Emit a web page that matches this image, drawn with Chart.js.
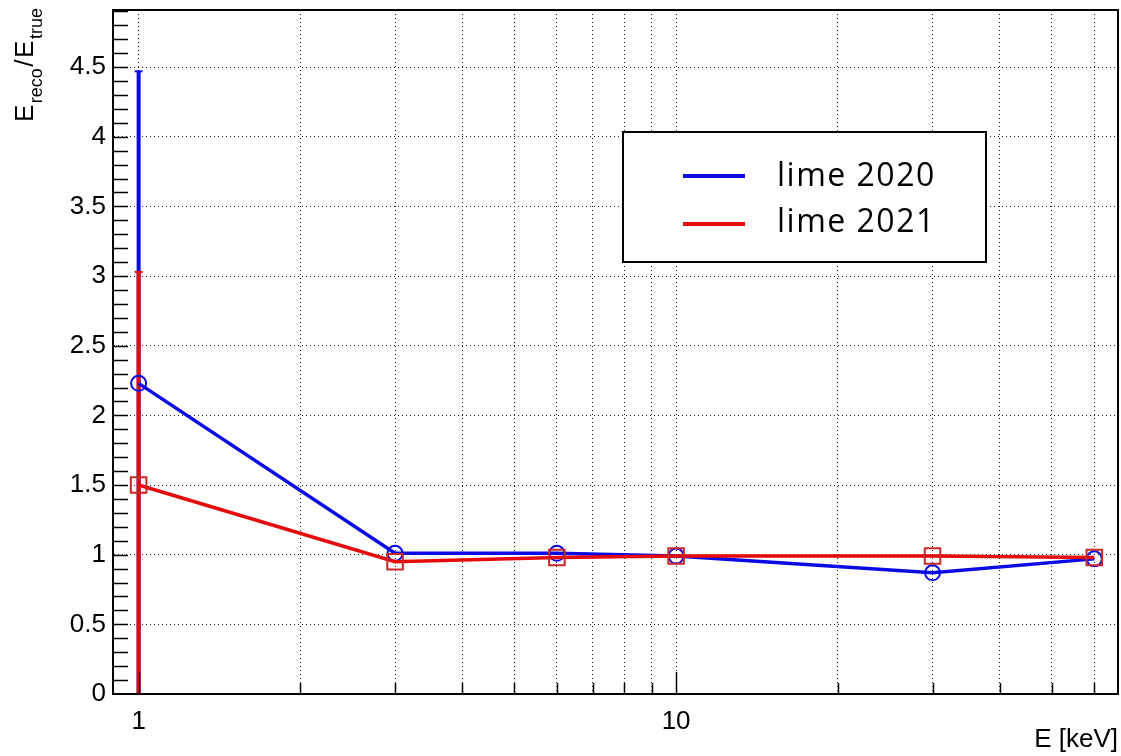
<!DOCTYPE html>
<html><head><meta charset="utf-8">
<script src="https://cdn.jsdelivr.net/npm/chart.js@4/dist/chart.umd.min.js"></script>
<style>html,body{margin:0;padding:0;background:#fff;overflow:hidden}canvas{display:block}</style>
</head><body>
<canvas id="c" width="1121" height="756"></canvas>
<script>
// ---- data ----
const energies = [1, 3, 6, 10, 30, 60];
const lime2020 = [2.23, 1.01, 1.01, 0.99, 0.87, 0.97];
const lime2020Err = [2.24, 0, 0, 0, 0, 0];
const lime2021 = [1.50, 0.95, 0.98, 0.99, 0.99, 0.98];
const lime2021Err = [1.53, 0, 0, 0, 0, 0];
const seriesNames = ['lime 2020', 'lime 2021'];
const xTickValues = [1, 2, 3, 4, 5, 6, 7, 8, 9, 10, 20, 30, 40, 50, 60];
const xLabeledTicks = [1, 10];
const yTickValues = [0, 0.5, 1, 1.5, 2, 2.5, 3, 3.5, 4, 4.5];
const xTitle = 'E [keV]';

const BLUE = '#0a0ae6';
const RED = '#e60a0a';

function pts(xs, ys) { return xs.map((x, i) => ({ x: x, y: ys[i] })); }

const errorBars = {
  id: 'errorBars',
  beforeDatasetsDraw(chart) {
    const ctx = chart.ctx, xs = chart.scales.x, ys = chart.scales.y, a = chart.chartArea;
    ctx.save();
    ctx.beginPath(); ctx.rect(a.left, a.top, a.right - a.left, a.bottom - a.top); ctx.clip();
    chart.data.datasets.forEach((ds) => {
      ctx.strokeStyle = ds.borderColor;
      ds.data.forEach((p, i) => {
        const e = ds.errors[i];
        if (!e) return;
        const px = xs.getPixelForValue(p.x);
        const y1 = ys.getPixelForValue(p.y - e), y2 = ys.getPixelForValue(p.y + e);
        ctx.lineWidth = 4;
        ctx.beginPath(); ctx.moveTo(px, y1); ctx.lineTo(px, y2); ctx.stroke();
        ctx.lineWidth = 2;
        [y1, y2].forEach(yy => { ctx.beginPath(); ctx.moveTo(px - 4, yy); ctx.lineTo(px + 4, yy); ctx.stroke(); });
      });
    });
    ctx.restore();
  }
};

const decorations = {
  id: 'decorations',
  afterDraw(chart) {
    const ctx = chart.ctx, xs = chart.scales.x, ys = chart.scales.y, a = chart.chartArea;
    ctx.save();
    // frame
    ctx.strokeStyle = '#000'; ctx.lineWidth = 2;
    ctx.strokeRect(a.left, a.top, a.right - a.left, a.bottom - a.top);
    // inward ticks
    ctx.lineWidth = 1.5;
    for (let k = 1; k < 50; k++) {
      const v = k / 10;
      if (v > ys.max) break;
      const py = Math.round(ys.getPixelForValue(v)) + 0.5;
      ctx.beginPath(); ctx.moveTo(a.left, py); ctx.lineTo(a.left + 15, py); ctx.stroke();
    }
    xTickValues.forEach(v => {
      const px = Math.round(xs.getPixelForValue(v)) + 0.5;
      const len = xLabeledTicks.includes(v) ? 22 : 11;
      ctx.beginPath(); ctx.moveTo(px, a.bottom); ctx.lineTo(px, a.bottom - len); ctx.stroke();
    });
    // x title
    ctx.fillStyle = '#000';
    ctx.font = '26px "Liberation Sans", Arial, sans-serif';
    ctx.textAlign = 'right'; ctx.textBaseline = 'alphabetic';
    ctx.fillText(xTitle, a.right, 747);
    // y title with subscripts
    ctx.translate(33, 122); ctx.rotate(-Math.PI / 2);
    ctx.textAlign = 'left';
    const big = '26px "Liberation Sans", Arial, sans-serif';
    const small = '18px "Liberation Sans", Arial, sans-serif';
    let x = 0;
    const parts = [['E', big, 0], ['reco', small, 9], ['/', big, 0], ['E', big, 0], ['true', small, 9]];
    parts.forEach(([t, f, dy]) => { ctx.font = f; ctx.fillText(t, x, dy); x += ctx.measureText(t).width + 1.5; });
    ctx.restore();

    // legend
    ctx.save();
    ctx.fillStyle = '#fff'; ctx.fillRect(623, 132, 363, 130);
    ctx.strokeStyle = '#000'; ctx.lineWidth = 2; ctx.strokeRect(623, 132, 363, 130);
    const rows = [176, 224], bases = [186, 232];
    chart.data.datasets.forEach((ds, i) => {
      ctx.strokeStyle = ds.borderColor; ctx.lineWidth = 4;
      ctx.beginPath(); ctx.moveTo(683, rows[i]); ctx.lineTo(745, rows[i]); ctx.stroke();
      ctx.fillStyle = '#000';
      ctx.font = '32px "Open Sans", sans-serif';
      if ('letterSpacing' in ctx) ctx.letterSpacing = '1.5px';
      ctx.textAlign = 'left'; ctx.textBaseline = 'alphabetic';
      ctx.fillText(ds.label, 777, bases[i]);
    });
    ctx.restore();
  }
};

const gridCommon = { color: '#222', lineWidth: 1, drawTicks: false };
const borderCommon = { display: true, color: '#000', width: 2, dash: [1, 3] };

new Chart(document.getElementById('c'), {
  type: 'line',
  data: {
    datasets: [
      { label: seriesNames[0], data: pts(energies, lime2020), errors: lime2020Err,
        borderColor: BLUE, borderWidth: 3.5, pointStyle: 'circle', pointRadius: 7.5,
        pointBorderColor: BLUE, pointBackgroundColor: 'rgba(0,0,0,0)', pointBorderWidth: 2,
        tension: 0, order: 1 },
      { label: seriesNames[1], data: pts(energies, lime2021), errors: lime2021Err,
        borderColor: RED, borderWidth: 3.5, pointStyle: 'rect', pointRadius: 11,
        pointBorderColor: '#c82828', pointBackgroundColor: 'rgba(0,0,0,0)', pointBorderWidth: 2,
        tension: 0, order: 0 }
    ]
  },
  options: {
    responsive: false, animation: false, devicePixelRatio: 1,
    layout: { autoPadding: false, padding: { top: 10, right: 3, left: 0, bottom: 0 } },
    plugins: { legend: { display: false }, tooltip: { enabled: false } },
    scales: {
      x: {
        type: 'logarithmic', min: 0.896, max: 66.4,
        afterBuildTicks: s => { s.ticks = xTickValues.map(v => ({ value: v })); },
        afterFit: s => { s.height = 62; s.paddingLeft = 0; s.paddingRight = 0; s.paddingTop = 0; s.paddingBottom = 0; },
        ticks: { autoSkip: false, maxRotation: 0, padding: 12, color: '#000',
          font: { family: '"Liberation Sans", Arial, sans-serif', size: 26 },
          callback: v => xLabeledTicks.includes(v) ? String(v) : '' },
        grid: gridCommon, border: borderCommon
      },
      y: {
        type: 'linear', min: 0, max: 4.91,
        afterBuildTicks: s => { s.ticks = yTickValues.map(v => ({ value: v })); },
        afterFit: s => { s.width = 113; s.paddingLeft = 0; s.paddingRight = 0; s.paddingTop = 0; s.paddingBottom = 0; },
        ticks: { autoSkip: false, padding: 7, color: '#000',
          font: { family: '"Liberation Sans", Arial, sans-serif', size: 26 },
          callback: v => String(v) },
        grid: gridCommon, border: borderCommon
      }
    }
  },
  plugins: [errorBars, decorations]
});
</script>
</body></html>
